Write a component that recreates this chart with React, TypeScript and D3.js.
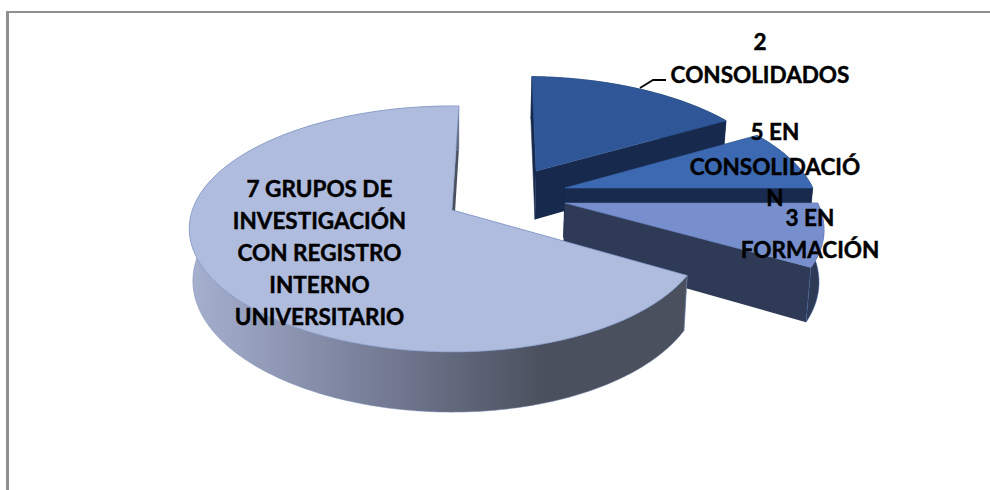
import React from "react";
import * as d3 from "d3";

// ---- data ----
const sliceNames = ["consolidados", "enConsolidacion", "enFormacion", "registroInterno"];
const sliceShares = [16.2, 8.3, 8.4, 67.1];
const sliceLabels = [
  ["2", "CONSOLIDADOS"],
  ["5 EN", "CONSOLIDACIÓ", "N"],
  ["3 EN", "FORMACIÓN"],
  ["7 GRUPOS DE", "INVESTIGACIÓN", "CON REGISTRO", "INTERNO", "UNIVERSITARIO"],
];

// ---- styling and layout ----
const topColors = ["#2f5797", "#3c69b2", "#778fcd", "#b0bcdd"];
const wallColors = ["#172a4e", "#182a4d", "#2f3a56", "url(#bigWall)"];
const edgeColors = ["#2f5797", "#3c69b2", "#6a86c4", "#7d95c8"];
// exploded apex of each slice on the pie plane (unit radius)
const apexU = [0.347, 0.456, 0.447, 0];
const apexV = [-0.342, -0.189, -0.058, 0];
// horizontal asymmetry of the perspective, only noticeable on the large slice
const sliceSkew = [0, 0, 0, 0.018];
const labelCenters = [
  { x: 760, ys: [41, 74] },
  { x: 775, ys: [131, 166, 197] },
  { x: 810, ys: [217, 249] },
  { x: 319.5, ys: [188, 220, 252, 284, 316] },
];

const CX = 452;
const CY = 210;
const RX = 255;
const RY = 120;
const K = 0.154;
const DEPTH = 51;
const SHRINK_X0 = 452;
const SHRINK = 0.0135;

const deg = Math.PI / 180;
const xUnit = d3.scaleLinear().domain([0, 1]).range([0, RX]);
const yUnit = d3.scaleLinear().domain([0, 1]).range([0, RY]);

type P = [number, number];
function project(u: number, v: number, bottom: boolean, skew: number): P {
  const s = 1 / (1 - K * v);
  const x = CX + xUnit(u) * s * (1 - skew * u);
  const y = CY + yUnit(v) * s;
  return bottom ? [x - (x - SHRINK_X0) * SHRINK, y + DEPTH * s] : [x, y];
}

const pieLayout = d3
  .pie<number>()
  .sort(null)
  .startAngle(1.8 * deg)
  .endAngle(361.8 * deg);
const arcs = pieLayout(sliceShares);
const linePath = d3.line<P>();

function rimPoint(i: number, a: number, r: number, bottom: boolean): P {
  return project(apexU[i] + r * Math.sin(a), apexV[i] - r * Math.cos(a), bottom, sliceSkew[i]);
}
function rim(i: number, a0: number, a1: number, bottom: boolean): P[] {
  const n = Math.max(4, Math.ceil(((a1 - a0) / deg) * 1.5));
  return d3.range(n + 1).map((k) => rimPoint(i, a0 + ((a1 - a0) * k) / n, 1, bottom));
}

function slicePaths(i: number) {
  const a0 = arcs[i].startAngle;
  const a1 = arcs[i].endAngle;
  const apexT = rimPoint(i, 0, 0, false);
  const apexB = rimPoint(i, 0, 0, true);
  const top = linePath([apexT, ...rim(i, a0, a1, false)]) + "Z";
  const startFace =
    linePath([apexT, rimPoint(i, a0, 1, false), rimPoint(i, a0, 1, true), apexB]) + "Z";
  const endFace =
    linePath([apexT, rimPoint(i, a1, 1, false), rimPoint(i, a1, 1, true), apexB]) + "Z";
  const outer =
    linePath([...rim(i, a0, a1, false), ...rim(i, a0, a1, true).reverse()]) + "Z";
  return { top, startFace, endFace, outer };
}

const leader: P[] = [
  [640, 88],
  [653, 80],
  [666, 80],
];

export default function App() {
  return (
    <svg
      width={990}
      height={490}
      style={{ position: "absolute", left: 0, top: 0, background: "#fff" }}
    >
      <defs>
        <linearGradient id="bigWall" gradientUnits="userSpaceOnUse" x1={190} x2={545} y1={0} y2={0}>
          <stop offset="0" stopColor="#a6b0cf" />
          <stop offset="0.45" stopColor="#7d849f" />
          <stop offset="1" stopColor="#4a505d" />
        </linearGradient>
      </defs>

      <rect x={6} y={11} width={984} height={2} fill="#8f8f8f" />
      <rect x={6} y={11} width={3} height={479} fill="#8f8f8f" />

      {sliceNames.map((name, i) => {
        const p = slicePaths(i);
        const wall = wallColors[i];
        const stroke = i === 3 ? "#7d8db5" : i === 2 ? "#3d5fa0" : wall;
        return (
          <g key={name}>
            <path d={p.startFace} fill={i === 3 ? "#6f82b4" : wall} stroke={i === 3 ? "#6f82b4" : wall} strokeWidth={0.5} />
            <path d={p.endFace} fill={i === 3 ? "#4a505d" : wall} stroke="none" />
            <path d={p.outer} fill={wall} stroke={stroke} strokeWidth={0.5} />
            <path d={p.top} fill={topColors[i]} stroke={edgeColors[i]} strokeWidth={0.6} />
          </g>
        );
      })}

      <path d={linePath(leader)!} fill="none" stroke="#000" strokeWidth={1.8} />

      {sliceLabels.map((lines, i) => (
        <text
          key={i}
          fontFamily="Lato, 'Open Sans', sans-serif"
          fontWeight={700}
          fontSize={22.5}
          fill="#000"
          stroke="#000"
          strokeWidth={0.45}
          textAnchor="middle"
          dominantBaseline="central"
        >
          {lines.map((line, j) => (
            <tspan key={j} x={labelCenters[i].x} y={labelCenters[i].ys[j]}>
              {line}
            </tspan>
          ))}
        </text>
      ))}
    </svg>
  );
}
